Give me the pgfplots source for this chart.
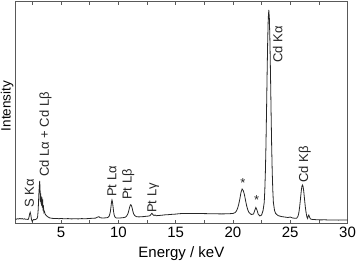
\documentclass[border=0pt]{standalone}
\usepackage{fontspec}
\setmainfont{Liberation Sans}
\usepackage{pgfplots}
\pgfplotsset{compat=1.18}
\begin{document}
\begin{tikzpicture}
\begin{axis}[
  name=ax,
  width=332.2pt, height=222.5pt, scale only axis,
  xmin=1, xmax=30, ymin=0, ymax=222.5,
  xtick={5,10,15,20,25,30},
  minor xtick={2.5,7.5,12.5,17.5,22.5,27.5},
  ytick=\empty,
  tick align=inside,
  major tick length=4pt, minor tick length=3.5pt,
  every tick/.style={black!65, line width=0.6pt},
  axis line style={black!65, line width=0.7pt},
  tick label style={font=\fontsize{15}{17}\selectfont},
  /pgf/number format/assume math mode=true,
  xticklabel style={inner sep=3.5pt},
  xlabel={Energy / keV},
  ylabel={Intensity},
  xlabel style={font=\fontsize{15}{17}\selectfont, at={(axis description cs:0.5,0)}, anchor=base, yshift=-33.5pt},
  ylabel style={font=\fontsize{13.5}{15}\selectfont, at={(axis description cs:-0.0142,0.528)}, anchor=base},
  clip=false,
]
\addplot[black!85, line width=0.8pt, mark=none] coordinates {
(1.0,4.5)(1.1,4.3)(1.2,4.8)(1.3,4.5)(1.4,5.0)(1.5,4.6)(1.6,4.9)(1.7,4.4)(1.8,4.7)(1.9,4.2)
(2.0,4.3)(2.1,4.0)(2.15,4.5)(2.2,6.5)(2.25,9.5)(2.3,11.2)(2.35,9.0)(2.4,5.0)(2.45,2.5)(2.5,2.2)
(2.55,3.5)(2.6,4.0)(2.7,3.8)(2.8,4.2)(2.9,5.0)(2.95,7)(3.0,14)(3.05,28)(3.1,38)(3.13,42.5)
(3.16,35)(3.19,22)(3.21,30)(3.24,20)(3.27,27)(3.3,18)(3.33,26)(3.36,16)(3.39,24)(3.42,13)
(3.45,18)(3.5,11)(3.55,12)(3.6,9.5)(3.7,8)(3.8,7)(3.9,6.2)(4.0,5.6)(4.2,5.2)(4.4,5.0)
(4.6,5.1)(4.8,4.8)(5.0,5.0)(5.3,4.7)(5.6,4.9)(5.9,4.6)(6.2,4.8)(6.5,4.6)(6.8,4.9)(7.1,4.7)
(7.4,5.0)(7.7,5.2)(8.0,5.4)(8.2,6.5)(8.3,6.8)(8.4,5.8)(8.6,5.5)(8.8,5.6)(9.0,5.8)(9.1,6.2)
(9.2,7.5)(9.25,9.5)(9.3,12)(9.35,16.5)(9.4,21.5)(9.44,23.5)(9.48,21.8)(9.53,17)(9.58,12)(9.63,8.5)
(9.7,6.5)(9.8,5.6)(10.0,5.5)(10.2,5.6)(10.4,5.8)(10.6,6.3)(10.7,7.2)(10.8,9.0)(10.85,10.5)(10.9,12.5)
(10.95,15.0)(11.0,17.0)(11.05,18.5)(11.08,18.8)(11.12,18.3)(11.17,16.8)(11.22,14.5)(11.27,12.0)(11.32,10.0)(11.4,8.3)
(11.5,7.3)(11.6,6.8)(11.8,6.6)(12.0,6.8)(12.2,6.9)(12.4,7.2)(12.6,7.4)(12.75,7.8)(12.85,9.2)(12.93,10.2)
(13.0,9.0)(13.1,8.0)(13.2,8.5)(13.3,7.8)(13.5,8.0)(13.8,8.3)(14.0,8.6)(14.3,8.8)(14.6,9.1)(15.0,9.4)
(15.3,9.8)(15.6,10.0)(16.0,10.1)(16.5,10.0)(17.0,10.1)(17.5,9.9)(18.0,9.8)(18.5,9.7)(19.0,9.6)(19.5,9.7)
(20.0,10.0)(20.2,11)(20.3,12.5)(20.4,15)(20.5,19)(20.6,24.5)(20.7,31)(20.8,34.5)(20.9,33)(21.0,29)
(21.1,23)(21.2,17.5)(21.3,13.5)(21.4,11)(21.6,9)(21.8,9.5)(21.9,13)(22.0,16)(22.1,13.5)(22.2,9.5)
(22.35,7.5)(22.5,8.5)(22.63,13)(22.73,21)(22.78,33)(22.83,51)(22.88,77)(22.93,111)(22.98,148)(23.03,181)
(23.08,205)(23.13,213.5)(23.18,205)(23.23,181)(23.28,148)(23.33,111)(23.38,77)(23.43,51)(23.48,33)(23.53,21)
(23.63,13)(23.73,10)(23.93,8)(24.2,7)(24.5,6.5)(24.8,6)(25.0,6.5)(25.2,5.5)(25.5,5.2)(25.57,5.4)
(25.67,7.1)(25.72,9)(25.77,12.1)(25.82,16.4)(25.87,21.8)(25.92,27.7)(25.97,33.2)(26.02,37.1)(26.07,38.5)(26.12,37.1)
(26.17,33.2)(26.22,27.7)(26.27,21.8)(26.32,16.4)(26.37,12.1)(26.42,8.5)(26.47,6.0)(26.52,5.0)(26.57,7.5)(26.62,8.5)
(26.67,7)(26.75,4.8)(26.85,4.2)(27.0,4.0)(27.3,3.8)(27.6,3.6)(28.0,3.7)(28.4,3.5)(28.8,3.6)(29.2,3.4)
(29.6,3.5)(30.0,3.4)
};
\begin{scope}[every node/.style={font=\fontsize{13}{15}\selectfont, inner sep=0pt, text=black!85}]
\node[rotate=90, anchor=west] at (axis cs:2.24,15.5) {S Kα};
\node[rotate=90, anchor=west] at (axis cs:3.63,46.5) {Cd Lα + Cd Lβ};
\node[rotate=90, anchor=west] at (axis cs:9.43,26.5) {Pt Lα};
\node[rotate=90, anchor=west] at (axis cs:10.86,23.5) {Pt Lβ};
\node[rotate=90, anchor=west] at (axis cs:13.05,10.5) {Pt Lγ};
\node[rotate=90, anchor=west] at (axis cs:23.9,160.5) {Cd Kα};
\node[rotate=90, anchor=west] at (axis cs:26.26,40.5) {Cd Kβ};
\node at (axis cs:20.86,40.5) {*};
\node at (axis cs:22.08,23.5) {*};
\end{scope}
\end{axis}
\pgfresetboundingbox
\path ([shift={(-15.3pt,-39.5pt)}]ax.south west) rectangle ([shift={(10.5pt,1pt)}]ax.north east);
\end{tikzpicture}
\end{document}
